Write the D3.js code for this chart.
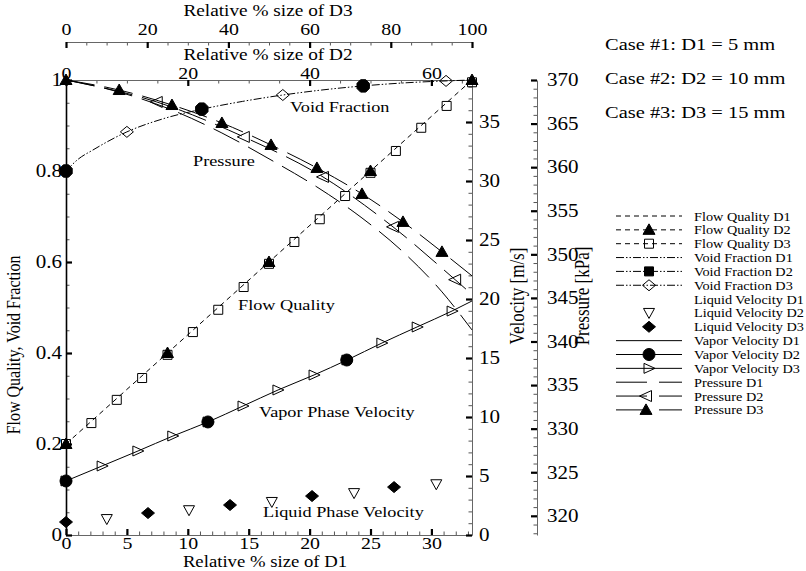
<!DOCTYPE html>
<html>
<head>
<meta charset="utf-8">
<script src="https://cdn.jsdelivr.net/npm/d3@7"></script>
<style>
  body { margin: 0; background: #fff; }
  text { font-family: 'Liberation Serif', 'Times New Roman', serif; fill: #000; }
</style>
</head>
<body>
<div id="chart"></div>
<script>
//
// Flow quality / void fraction / velocity / pressure along the tube,
// three tube sizes on three stacked x axes (D1 bottom, D2 & D3 top)
//
// points are [relative % size, value] in each case's own x units
const flowQualityD1 = [[0, 0.2], [33.33, 1.0]]
const flowQualityD2 = [[0, 0.2], [16.67, 0.4], [33.33, 0.6], [50, 0.8], [66.67, 1.0]]
const flowQualityD3 = [[0, 0.2], [6.25, 0.246], [12.5, 0.297], [18.75, 0.345], [25, 0.396], [31.25, 0.446],
  [37.5, 0.495], [43.75, 0.545], [50, 0.596], [56.25, 0.644], [62.5, 0.694], [68.75, 0.745], [75, 0.796],
  [81.25, 0.844], [87.5, 0.895], [93.75, 0.943], [100, 0.995]]

const voidFractionD1 = [[0, 0.8], [1, 0.826], [2.2, 0.846], [5, 0.886], [8, 0.915], [11.2, 0.936], [14.5, 0.953],
  [17.8, 0.967], [21, 0.978], [24.4, 0.987], [28, 0.994], [31.2, 0.998], [33.33, 1.0]]
const voidFractionD2 = [[0, 0.8], [22.3, 0.936], [48.8, 0.987]]
const voidFractionD3 = [[15, 0.886], [53.4, 0.967], [93.6, 0.998]]

const liquidVelocityD2 = [[6.7, 1.35], [20.2, 2.1], [33.8, 2.8], [47.3, 3.55], [60.8, 4.3]]
const liquidVelocityD3 = [[0, 1.1], [20.2, 1.86], [40.4, 2.54], [60.6, 3.3], [80.8, 4.06]]

const vaporVelocityD1 = [[0, 4.58], [2.96, 5.85], [5.91, 7.12], [8.78, 8.39], [11.66, 9.58], [14.53, 10.93],
  [17.41, 12.29], [20.36, 13.56], [23.07, 14.83], [25.94, 16.27], [28.82, 17.63], [31.69, 18.98], [33.33, 19.83]]
const vaporVelocityD2 = [[0, 4.58], [23.3, 9.58], [46.1, 14.83]]
const vaporVelocityD3 = [[0, 4.58], [8.9, 5.85], [17.7, 7.12], [26.3, 8.39], [35, 9.58], [43.6, 10.93], [52.2, 12.29],
  [61.1, 13.56], [69.2, 14.83], [77.8, 16.27], [86.5, 17.63], [95.1, 18.98]]

const pressureD1 = [[0, 370], [4.35, 368.62], [8.7, 366.56], [12.8, 363.92], [16.83, 360.83], [20.6, 357.73],
  [24.3, 354.17], [27.67, 350.28], [30.87, 345.69], [33.33, 341.33]]
const pressureD2 = [[0, 370], [14.9, 367.48], [29.2, 363.47], [42.2, 358.88], [53.7, 353.15], [63.9, 347.09], [66.67, 345.4]]
const pressureD3 = [[0, 370], [13.1, 368.85], [26.1, 367.13], [38.4, 365.07], [50.5, 362.55], [61.8, 359.91],
  [72.9, 356.93], [83.0, 353.72], [92.6, 350.28], [100, 347.53]]

// tick values
const ticksD1 = [0, 5, 10, 15, 20, 25, 30]
const ticksD2 = [0, 20, 40, 60]
const ticksD3 = [0, 20, 40, 60, 80, 100]
const ticksLeft = [0, 0.2, 0.4, 0.6, 0.8, 1]
const ticksVelocity = [0, 5, 10, 15, 20, 25, 30, 35]
const ticksPressure = [320, 325, 330, 335, 340, 345, 350, 355, 360, 365, 370]

const caseLabels = ['Case #1: D1 = 5 mm', 'Case #2: D2 = 10 mm', 'Case #3: D3 = 15 mm']
const legendLabels = ['Flow Quality D1', 'Flow Quality D2', 'Flow Quality D3',
  'Void Fraction D1', 'Void Fraction D2', 'Void Fraction D3',
  'Liquid Velocity D1', 'Liquid Velocity D2', 'Liquid Velocity D3',
  'Vapor Velocity D1', 'Vapor Velocity D2', 'Vapor Velocity D3',
  'Pressure D1', 'Pressure D2', 'Pressure D3']

//
// Layout
//
const width = 806
const height = 571
const SX = 1.17 // source text is drawn wider than it is tall
const plotLeft = 66
const plotRight = 472
const plotTop = 80
const plotBottom = 535

const svg = d3.select('#chart').append('svg')
  .attr('width', width)
  .attr('height', height)
  .style('background', '#fff')

const x1 = d3.scaleLinear().domain([0, 33.333]).range([plotLeft, plotRight])
const x2 = d3.scaleLinear().domain([0, 66.667]).range([plotLeft, plotRight])
const x3 = d3.scaleLinear().domain([0, 100]).range([plotLeft, plotRight])
const yL = d3.scaleLinear().domain([0, 1]).range([plotBottom, plotTop])
const yV = d3.scaleLinear().domain([0, 38.56]).range([plotBottom, plotTop])
const yP = d3.scaleLinear().domain([317.8, 370]).range([plotBottom, plotTop])

// marker shapes
const shapes = {
  triUp: 'M0,-6L6,4.5L-6,4.5Z',
  triDown: 'M0,5.5L-5.5,-4.5L5.5,-4.5Z',
  triRight: 'M6,0L-5,-5L-5,5Z',
  triLeft: 'M-6.5,0L5.5,-5.5L5.5,5.5Z',
  square: 'M-4.5,-4.5H4.5V4.5H-4.5Z',
  diamond: 'M-6.5,0L0,-5.5L6.5,0L0,5.5Z',
  circle: 'M6,0A6,6 0 1,1 -6,0A6,6 0 1,1 6,0Z',
  octagon: 'M6.2,2.6L2.6,6.2L-2.6,6.2L-6.2,2.6L-6.2,-2.6L-2.6,-6.2L2.6,-6.2L6.2,-2.6Z'
}
const dashes = {
  quality: '5,4',
  void: '8,2,1.5,2,1.5,2',
  solid: null,
  pressure: '29,10',
  legendPressure: '31,12'
}

function text (x, y, s, size, anchor, rotate) {
  return svg.append('text')
    .attr('transform', 'translate(' + x + ',' + y + ') scale(' + SX + ',1)' + (rotate ? ' rotate(-90)' : ''))
    .attr('text-anchor', anchor || 'start')
    .style('font-size', size + 'px')
    .text(s)
}

//
// Axes
//
function drawAxis (axisFn, scale, majors, minors, pos, pad, fontSize, lineColor, lineWidth) {
  const g = svg.append('g').attr('transform', pos)
  g.append('g')
    .call(axisFn(scale).tickValues(minors).tickSizeInner(-3.5).tickSizeOuter(0).tickFormat(''))
    .call(a => a.select('.domain').remove())
    .selectAll('line').attr('stroke', '#555')
  const major = g.append('g')
    .call(axisFn(scale).tickValues(majors).tickSizeInner(-6).tickSizeOuter(0).tickPadding(pad).tickFormat(d => String(d)))
    .attr('font-family', null).attr('font-size', null)
  major.select('.domain').attr('stroke', lineColor).attr('stroke-width', lineWidth || 1)
  major.selectAll('.tick line').attr('stroke', '#000').attr('stroke-width', 2.2)
  major.selectAll('.tick text')
    .style('font-size', fontSize + 'px')
    .attr('fill', '#000')
    .attr('transform', 'scale(' + SX + ',1)')
    .attr('x', function () { return +this.getAttribute('x') / SX })
  return g
}

drawAxis(d3.axisBottom, x1, ticksD1, d3.range(0, 34, 1), 'translate(0,' + plotBottom + ')', 2, 17, '#666')
drawAxis(d3.axisTop, x2, ticksD2, d3.range(0, 66, 5), 'translate(0,' + plotTop + ')', 1.5, 17, '#666')
drawAxis(d3.axisTop, x3, ticksD3, d3.range(0, 101, 5), 'translate(0,42)', 7, 17, '#666')
drawAxis(d3.axisLeft, yL, ticksLeft, d3.range(0, 1.001, 0.05), 'translate(' + plotLeft + ',0)', 4, 18, '#000', 1.6)
drawAxis(d3.axisRight, yV, ticksVelocity, d3.range(0, 39, 1), 'translate(' + plotRight + ',0)', 7, 18, '#666')
drawAxis(d3.axisRight, yP, ticksPressure, d3.range(318, 371, 1), 'translate(537,0)', 10, 18, '#666')

text(268, 16, 'Relative % size of D3', 16.5, 'middle')
text(268, 60, 'Relative % size of D2', 16.5, 'middle')
text(265, 567, 'Relative % size of D1', 16, 'middle')
text(20, 345, 'Flow Quality, Void Fraction', 16, 'middle', true)
text(524, 296, 'Velocity [m/s]', 17, 'middle', true)
text(589, 296, 'Pressure [kPa]', 17, 'middle', true)

//
// Lines
//
const plot = svg.append('g')
function drawLine (data, xs, ys, dash, curve) {
  plot.append('path')
    .datum(data)
    .attr('fill', 'none')
    .attr('stroke', '#000')
    .attr('stroke-width', 1)
    .attr('stroke-dasharray', dash)
    .attr('d', d3.line().x(d => xs(d[0])).y(d => ys(d[1])).curve(curve || d3.curveLinear))
}
function drawMarks (data, xs, ys, shape, filled) {
  plot.append('g').selectAll('path')
    .data(data)
    .enter().append('path')
    .attr('transform', d => 'translate(' + xs(d[0]) + ',' + ys(d[1]) + ')')
    .attr('d', shapes[shape])
    .attr('fill', filled ? '#000' : 'none')
    .attr('stroke', '#000')
    .attr('stroke-width', 1)
}

drawLine(flowQualityD1, x1, yL, dashes.quality)
drawLine(voidFractionD1, x1, yL, dashes.void, d3.curveMonotoneX)
drawLine(vaporVelocityD1, x1, yV, dashes.solid, d3.curveMonotoneX)
drawLine(pressureD1, x1, yP, dashes.pressure, d3.curveMonotoneX)
drawLine(pressureD2, x2, yP, dashes.pressure, d3.curveMonotoneX)
drawLine(pressureD3, x3, yP, dashes.pressure, d3.curveMonotoneX)

drawMarks(flowQualityD3, x3, yL, 'square', false)
drawMarks(flowQualityD2, x2, yL, 'triUp', true)
drawMarks(voidFractionD3, x3, yL, 'diamond', false)
drawMarks(voidFractionD2, x2, yL, 'octagon', true)
drawMarks(liquidVelocityD2, x2, yV, 'triDown', false)
drawMarks(liquidVelocityD3, x3, yV, 'diamond', true)
drawMarks(vaporVelocityD3, x3, yV, 'triRight', false)
drawMarks(vaporVelocityD2, x2, yV, 'circle', true)
drawMarks(pressureD2.slice(1, -1), x2, yP, 'triLeft', false)
drawMarks(pressureD3.slice(0, -1), x3, yP, 'triUp', true)

// curve labels
text(290, 112, 'Void Fraction', 15.6)
text(193, 166, 'Pressure', 15.6)
text(238, 310, 'Flow Quality', 15.6)
text(259, 417, 'Vapor Phase Velocity', 15.6)
text(263, 517, 'Liquid Phase Velocity', 15.6)

caseLabels.forEach((s, i) => text(605, 50 + i * 34, s, 17.5))

//
// Legend
//
const legendStyle = [
  ['quality', null, false], ['quality', 'triUp', true], ['quality', 'square', false],
  ['void', null, false], ['void', 'square', true], ['void', 'diamond', false],
  [null, null, false], [null, 'triDown', false], [null, 'diamond', true],
  ['solid', null, false], ['solid', 'circle', true], ['solid', 'triRight', false],
  ['legendPressure', null, false], ['legendPressure', 'triLeft', false], ['legendPressure', 'triUp', true]
]
const legend = svg.append('g')
legendLabels.forEach((label, i) => {
  const y = 216 + i * 13.85
  const st = legendStyle[i]
  if (st[0]) {
    legend.append('line')
      .attr('x1', 616).attr('x2', 682).attr('y1', y).attr('y2', y)
      .attr('stroke', '#000').attr('stroke-width', 1)
      .attr('stroke-dasharray', dashes[st[0]])
  }
  if (st[1]) {
    legend.append('path')
      .attr('transform', 'translate(' + (st[0] === 'legendPressure' ? 646 : 649) + ',' + y + ')')
      .attr('d', shapes[st[1]])
      .attr('fill', st[2] ? '#000' : 'none')
      .attr('stroke', '#000')
  }
  legend.append('text')
    .attr('transform', 'translate(694,' + (y + 4.5) + ') scale(' + SX + ',1)')
    .style('font-size', '12.2px')
    .text(label)
})
</script>
</body>
</html>
